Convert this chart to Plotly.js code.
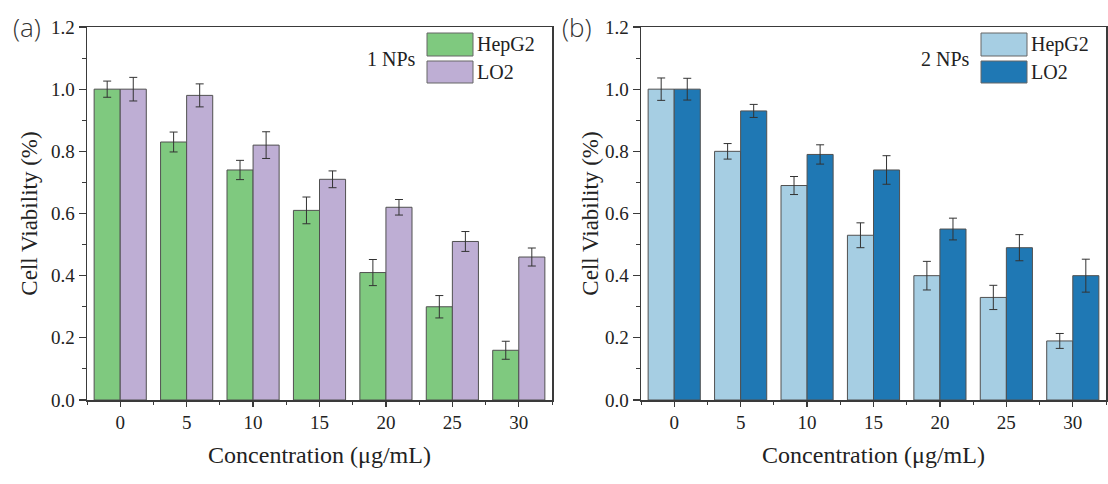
<!DOCTYPE html>
<html>
<head>
<meta charset="utf-8">
<script src="https://cdn.plot.ly/plotly-3.0.1.min.js"></script>
<style>html,body{margin:0;padding:0;background:#fff;}#chart{width:1108px;height:484px;}</style>
</head>
<body>
<div id="chart"></div>
<script>
// ---- data ----
const concentrations = [0, 5, 10, 15, 20, 25, 30];
const tickLabels = ["0", "5", "10", "15", "20", "25", "30"];
const seriesNames = ["HepG2", "LO2"];
const panelLabels = ["(a)", "(b)"];
const panelTitles = ["1 NPs", "2 NPs"];

const hepg2_1 = [1.00, 0.83, 0.74, 0.61, 0.41, 0.30, 0.16];
const hepg2_1_err = [0.026, 0.032, 0.031, 0.043, 0.042, 0.036, 0.029];
const lo2_1 = [1.00, 0.98, 0.82, 0.71, 0.62, 0.51, 0.46];
const lo2_1_err = [0.038, 0.037, 0.043, 0.027, 0.025, 0.032, 0.029];

const hepg2_2 = [1.00, 0.80, 0.69, 0.53, 0.40, 0.33, 0.19];
const hepg2_2_err = [0.036, 0.025, 0.029, 0.040, 0.046, 0.039, 0.024];
const lo2_2 = [1.00, 0.93, 0.79, 0.74, 0.55, 0.49, 0.40];
const lo2_2_err = [0.035, 0.021, 0.031, 0.046, 0.035, 0.042, 0.053];

const yTickVals = [0, 0.2, 0.4, 0.6, 0.8, 1.0, 1.2];
const yTickText = ["0.0", "0.2", "0.4", "0.6", "0.8", "1.0", "1.2"];

// ---- styles ----
const colors = {
  a: ["#7fc97f", "#beaed4"],
  b: ["#a6cee3", "#1f78b4"]
};
const serif = "Liberation Serif, Times New Roman, serif";
const axisColor = "#3a3a3a";
const W = 1108, H = 484;

function barTrace(x, y, err, name, color, xa, ya) {
  return {
    type: "bar", x: x, y: y, name: name, xaxis: xa, yaxis: ya,
    marker: {color: color, line: {color: "#505050", width: 1}},
    error_y: {type: "data", array: err, visible: true, color: "#333333", thickness: 1, width: 4},
    showlegend: false
  };
}

const data = [
  barTrace(concentrations, hepg2_1, hepg2_1_err, seriesNames[0], colors.a[0], "x", "y"),
  barTrace(concentrations, lo2_1, lo2_1_err, seriesNames[1], colors.a[1], "x", "y"),
  barTrace(concentrations, hepg2_2, hepg2_2_err, seriesNames[0], colors.b[0], "x2", "y2"),
  barTrace(concentrations, lo2_2, lo2_2_err, seriesNames[1], colors.b[1], "x2", "y2")
];

function xAxis(domain, anchor) {
  return {
    domain: domain, anchor: anchor, range: [-2.5, 32.5],
    tickmode: "array", tickvals: concentrations, ticktext: tickLabels,
    ticks: "outside", ticklen: 5, tickwidth: 1.2, tickcolor: axisColor,
    minor: {tickmode: "linear", tick0: 2.5, dtick: 5, ticks: "outside", ticklen: 3, tickcolor: axisColor, tickwidth: 1},
    showline: true, mirror: true, linecolor: axisColor, linewidth: 1.5,
    showgrid: false, zeroline: false,
    tickfont: {family: serif, size: 19, color: "#222"},
    title: {text: "Concentration (μg/mL)", font: {family: serif, size: 24, color: "#222"}, standoff: 14},
    automargin: false, fixedrange: true
  };
}
function yAxis(anchor, standoff) {
  return {
    domain: [84 / H, 1 - 27 / H], anchor: anchor, range: [0, 1.2],
    tickmode: "array", tickvals: yTickVals, ticktext: yTickText,
    ticks: "outside", ticklen: 7, tickwidth: 1.2, tickcolor: axisColor,
    minor: {tickmode: "linear", tick0: 0, dtick: 0.1, ticks: "outside", ticklen: 4, tickcolor: axisColor, tickwidth: 1},
    showline: true, mirror: true, linecolor: axisColor, linewidth: 1.5,
    showgrid: false, zeroline: false,
    tickfont: {family: serif, size: 19, color: "#222"},
    title: {text: "Cell Viability (%)", font: {family: serif, size: 23, color: "#222"}, standoff: standoff},
    automargin: false, fixedrange: true
  };
}

// legend boxes drawn as shapes + text (paper coordinates)
const shapes = [];
const annotations = [];
function px(x) { return x / W; }
function py(y) { return 1 - y / H; }
function addLegend(x0, cols, title) {
  const rows = [[33, 56], [61, 83]];
  rows.forEach((r, i) => {
    shapes.push({type: "rect", xref: "paper", yref: "paper",
      x0: px(x0), x1: px(x0 + 46), y0: py(r[1]), y1: py(r[0]),
      fillcolor: cols[i], line: {color: "#666666", width: 1}});
    annotations.push({xref: "paper", yref: "paper", x: px(x0 + 48), y: py((r[0] + r[1]) / 2),
      xanchor: "left", yanchor: "middle", showarrow: false, text: seriesNames[i],
      font: {family: serif, size: 20, color: "#222"}});
  });
  annotations.push({xref: "paper", yref: "paper", x: px(x0 - 9), y: py(59),
    xanchor: "right", yanchor: "middle", showarrow: false, text: title,
    font: {family: serif, size: 20, color: "#222"}});
}
addLegend(427, colors.a, panelTitles[0]);
addLegend(981, colors.b, panelTitles[1]);

annotations.push({xref: "paper", yref: "paper", x: px(27), y: py(27), xanchor: "center", yanchor: "middle",
  showarrow: false, text: panelLabels[0], font: {family: "Open Sans, Noto Sans, sans-serif", size: 26, color: "#333", weight: 300}});
annotations.push({xref: "paper", yref: "paper", x: px(577), y: py(27), xanchor: "center", yanchor: "middle",
  showarrow: false, text: panelLabels[1], font: {family: "Open Sans, Noto Sans, sans-serif", size: 26, color: "#333", weight: 300}});

const layout = {
  width: W, height: H,
  margin: {l: 0, r: 0, t: 0, b: 0},
  paper_bgcolor: "#ffffff", plot_bgcolor: "#ffffff",
  barmode: "group", bargap: 0.215, bargroupgap: 0,
  showlegend: false,
  xaxis: xAxis([87 / W, 552 / W], "y"),
  yaxis: yAxis("x", 7),
  xaxis2: xAxis([641 / W, 1106 / W], "y2"),
  yaxis2: yAxis("x2", 0),
  shapes: shapes,
  annotations: annotations
};

Plotly.newPlot("chart", data, layout, {staticPlot: true, displayModeBar: false});
</script>
</body>
</html>
